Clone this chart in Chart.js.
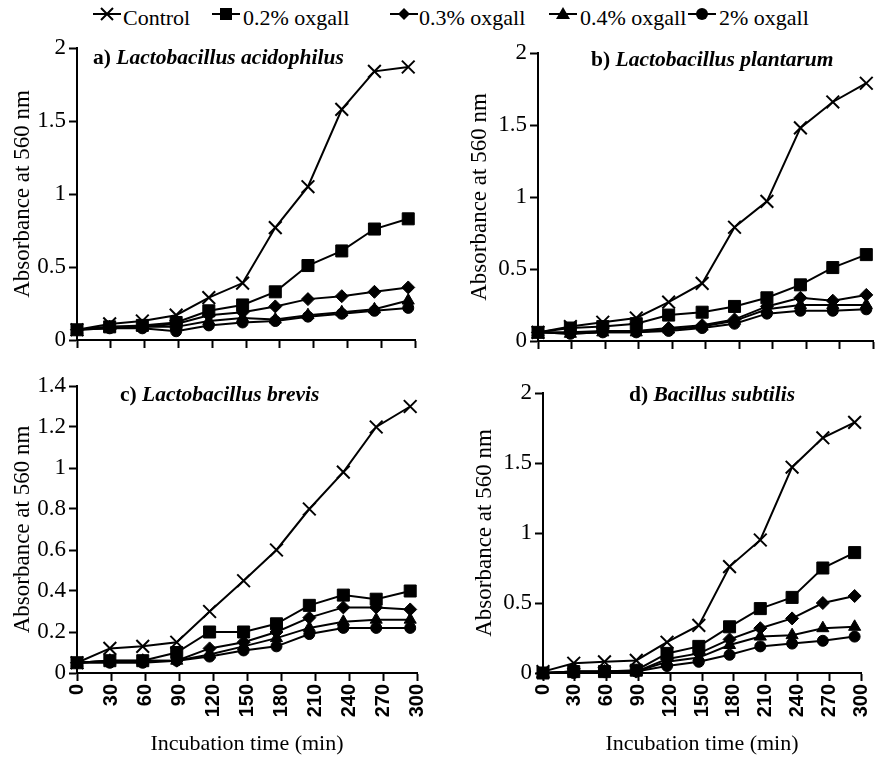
<!DOCTYPE html>
<html>
<head>
<meta charset="utf-8">
<script src="https://cdn.jsdelivr.net/npm/chart.js@4.4.1/dist/chart.umd.min.js"></script>
<style>
  html, body { margin: 0; padding: 0; background: #fff; }
  #page { position: relative; width: 888px; height: 759px; overflow: hidden; font-family: 'Liberation Serif', serif; color: #000; }
  .panel { position: absolute; }
  .ttl { position: absolute; font-size: 21.5px; font-weight: bold; white-space: nowrap; line-height: 1; }
  .ttl i { font-style: italic; }
  .leg { position: absolute; top: 7px; font-size: 22px; line-height: 1; white-space: nowrap; }
  .mk { position: absolute; top: 3px; }
</style>
</head>
<body>
<div id="page">
  <svg class="mk" style="left:92px" width="30" height="22"><line x1="1" y1="11" x2="29" y2="11" stroke="#000" stroke-width="2"/><path d="M9 5 L21 17 M21 5 L9 17" stroke="#000" stroke-width="2"/></svg>
  <span class="leg" style="left:123px">Control</span>
  <svg class="mk" style="left:211px" width="30" height="22"><line x1="1" y1="11" x2="29" y2="11" stroke="#000" stroke-width="2"/><rect x="9" y="5" width="12" height="12" fill="#000"/></svg>
  <span class="leg" style="left:243px">0.2% oxgall</span>
  <svg class="mk" style="left:389px" width="30" height="22"><line x1="1" y1="11" x2="29" y2="11" stroke="#000" stroke-width="2"/><path d="M15 5 L21 11 L15 17 L9 11 Z" fill="#000"/></svg>
  <span class="leg" style="left:419px">0.3% oxgall</span>
  <svg class="mk" style="left:548px" width="30" height="22"><line x1="1" y1="11" x2="29" y2="11" stroke="#000" stroke-width="2"/><path d="M15 4 L22 16 L8 16 Z" fill="#000"/></svg>
  <span class="leg" style="left:580px">0.4% oxgall</span>
  <svg class="mk" style="left:687px" width="30" height="22"><line x1="1" y1="11" x2="29" y2="11" stroke="#000" stroke-width="2"/><circle cx="15" cy="11" r="6" fill="#000"/></svg>
  <span class="leg" style="left:719px">2% oxgall</span>

  <div class="panel" style="left:0;top:0;width:444px;height:360px"><canvas id="cA" width="444" height="360"></canvas></div>
  <div class="panel" style="left:444px;top:0;width:444px;height:360px"><canvas id="cB" width="444" height="360"></canvas></div>
  <div class="panel" style="left:0;top:360px;width:444px;height:399px"><canvas id="cC" width="444" height="399"></canvas></div>
  <div class="panel" style="left:444px;top:360px;width:444px;height:399px"><canvas id="cD" width="444" height="399"></canvas></div>

  <div class="ttl" style="left:93px;top:47px">a) <i>Lactobacillus acidophilus</i></div>
  <div class="ttl" style="left:591px;top:49px">b) <i>Lactobacillus plantarum</i></div>
  <div class="ttl" style="left:120px;top:384px">c) <i>Lactobacillus brevis</i></div>
  <div class="ttl" style="left:629px;top:384px">d) <i>Bacillus subtilis</i></div>
</div>
<script>
// sampling times (min)
const times = [0, 29, 58, 88, 117, 147, 176, 205, 235, 264, 294];
const xTicks = [0, 30, 60, 90, 120, 150, 180, 210, 240, 270, 300];
const yTicks2 = [0, 0.5, 1, 1.5, 2];
const yTicks14 = [0, 0.2, 0.4, 0.6, 0.8, 1, 1.2, 1.4];

const seriesNames = ['Control', '0.2% oxgall', '0.3% oxgall', '0.4% oxgall', '2% oxgall'];

// a) L. acidophilus
const acidControl = [0.07, 0.11, 0.13, 0.17, 0.29, 0.39, 0.77, 1.05, 1.58, 1.84, 1.87];
const acid02 = [0.07, 0.09, 0.10, 0.12, 0.20, 0.24, 0.33, 0.51, 0.61, 0.76, 0.83];
const acid03 = [0.07, 0.09, 0.09, 0.11, 0.17, 0.19, 0.23, 0.28, 0.30, 0.33, 0.36];
const acid04 = [0.07, 0.08, 0.09, 0.09, 0.13, 0.15, 0.14, 0.17, 0.19, 0.21, 0.27];
const acid2 = [0.07, 0.08, 0.08, 0.06, 0.10, 0.12, 0.13, 0.16, 0.18, 0.20, 0.22];

// b) L. plantarum
const plantControl = [0.06, 0.10, 0.13, 0.16, 0.27, 0.40, 0.79, 0.97, 1.48, 1.66, 1.79];
const plant02 = [0.06, 0.09, 0.10, 0.12, 0.18, 0.20, 0.24, 0.30, 0.39, 0.51, 0.60];
const plant03 = [0.06, 0.06, 0.07, 0.07, 0.09, 0.11, 0.15, 0.24, 0.30, 0.28, 0.32];
const plant04 = [0.06, 0.05, 0.06, 0.06, 0.08, 0.10, 0.14, 0.22, 0.25, 0.25, 0.25];
const plant2 = [0.06, 0.05, 0.06, 0.06, 0.07, 0.09, 0.12, 0.19, 0.21, 0.21, 0.22];

// c) L. brevis
const brevControl = [0.05, 0.12, 0.13, 0.15, 0.30, 0.45, 0.60, 0.80, 0.98, 1.20, 1.30];
const brev02 = [0.05, 0.06, 0.06, 0.10, 0.20, 0.20, 0.24, 0.33, 0.38, 0.36, 0.40];
const brev03 = [0.05, 0.06, 0.06, 0.06, 0.12, 0.15, 0.20, 0.27, 0.32, 0.32, 0.31];
const brev04 = [0.05, 0.06, 0.06, 0.06, 0.09, 0.13, 0.17, 0.22, 0.25, 0.26, 0.26];
const brev2 = [0.05, 0.05, 0.05, 0.06, 0.08, 0.11, 0.13, 0.19, 0.22, 0.22, 0.22];

// d) B. subtilis
const subtControl = [0.01, 0.07, 0.08, 0.09, 0.22, 0.34, 0.76, 0.95, 1.47, 1.68, 1.79];
const subt02 = [0.00, 0.01, 0.01, 0.02, 0.14, 0.19, 0.33, 0.46, 0.54, 0.75, 0.86];
const subt03 = [0.00, 0.01, 0.01, 0.01, 0.10, 0.14, 0.24, 0.32, 0.39, 0.50, 0.55];
const subt04 = [0.00, 0.01, 0.01, 0.01, 0.08, 0.11, 0.20, 0.26, 0.27, 0.32, 0.33];
const subt2 = [0.00, 0.00, 0.01, 0.01, 0.05, 0.08, 0.13, 0.19, 0.21, 0.23, 0.26];

const markers = [
  { pointStyle: 'crossRot', radius: 9, borderWidth: 2 },
  { pointStyle: 'rect', radius: 8.5, borderWidth: 1 },
  { pointStyle: 'rectRot', radius: 6.5, borderWidth: 1 },
  { pointStyle: 'triangle', radius: 7, borderWidth: 1 },
  { pointStyle: 'circle', radius: 5.5, borderWidth: 1 }
];

const serif = 'Liberation Serif';

function makeDatasets(list) {
  return list.map((vals, i) => ({
    label: seriesNames[i],
    data: times.map((t, k) => ({ x: t, y: vals[k] })),
    borderColor: '#000',
    backgroundColor: '#000',
    borderWidth: 2,
    pointStyle: markers[i].pointStyle,
    pointRadius: markers[i].radius,
    pointBorderWidth: markers[i].borderWidth,
    pointBackgroundColor: '#000',
    pointBorderColor: '#000',
    tension: 0,
    clip: false
  }));
}

function drawPanel(id, list, yTicks, yMax, box) {
  new Chart(document.getElementById(id), {
    type: 'line',
    data: { datasets: makeDatasets(list) },
    options: {
      responsive: false,
      animation: false,
      devicePixelRatio: 1,
      layout: { padding: { left: 0, right: box.right, top: box.top, bottom: 0 } },
      plugins: { legend: { display: false }, tooltip: { enabled: false } },
      scales: {
        x: {
          type: 'linear', min: 0, max: 300,
          afterBuildTicks: s => { s.ticks = xTicks.map(v => ({ value: v })); },
          afterFit: s => { s.height = box.xh; },
          grid: { drawOnChartArea: false, drawTicks: true, tickLength: 8, tickColor: '#000', tickWidth: 2, color: '#000' },
          border: { color: '#000', width: 2 },
          ticks: {
            display: box.xLabels, autoSkip: false, maxRotation: 90, minRotation: 90,
            color: '#000', padding: 3,
            font: { family: 'Liberation Sans', size: 20, weight: 'bold' }
          },
          title: {
            display: box.xLabels, text: 'Incubation time (min)', color: '#000',
            font: { family: serif, size: 22 }, padding: { top: 0, bottom: 2 }
          }
        },
        y: {
          min: 0, max: yMax,
          afterBuildTicks: s => { s.ticks = yTicks.map(v => ({ value: v })); },
          afterFit: s => { s.width = box.yw; },
          grid: { drawOnChartArea: false, drawTicks: true, tickLength: 8, tickColor: '#000', tickWidth: 2, color: '#000' },
          border: { color: '#000', width: 2 },
          ticks: { color: '#000', padding: 3, callback: v => String(v), font: { family: serif, size: 23 } },
          title: {
            display: true, text: 'Absorbance at 560 nm', color: '#000',
            font: { family: serif, size: 23 }, padding: { top: box.ytp, bottom: 0 }
          }
        }
      }
    }
  });
}

drawPanel('cA', [acidControl, acid02, acid03, acid04, acid2], yTicks2, 2,
  { yw: 77, right: 29, top: 48, xh: 20, xLabels: false, ytp: 9 });
drawPanel('cB', [plantControl, plant02, plant03, plant04, plant2], yTicks2, 2,
  { yw: 94, right: 15, top: 53, xh: 19, xLabels: false, ytp: 22 });
drawPanel('cC', [brevControl, brev02, brev03, brev04, brev2], yTicks14, 1.4,
  { yw: 77, right: 24, top: 26, xh: 86, xLabels: true, ytp: 9 });
drawPanel('cD', [subtControl, subt02, subt03, subt04, subt2], yTicks2, 2,
  { yw: 99, right: 8, top: 33, xh: 86, xLabels: true, ytp: 27 });
</script>
</body>
</html>
